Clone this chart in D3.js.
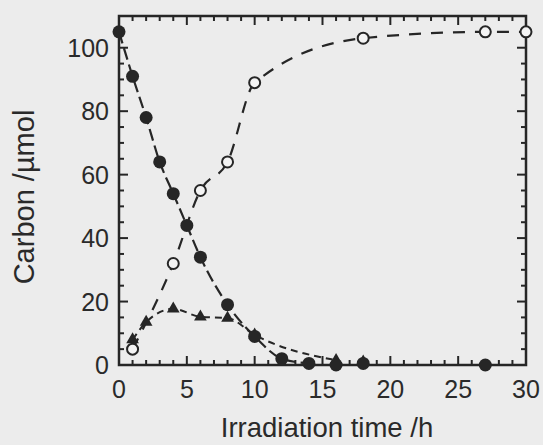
<!DOCTYPE html>
<html>
<head>
<meta charset="utf-8">
<script src="https://cdn.jsdelivr.net/npm/d3@7"></script>
<style>
  html, body { margin: 0; padding: 0; background: #ececec; }
  text { font-family: "Liberation Sans", Arial, sans-serif; fill: #2a2a2a; }
</style>
</head>
<body>
<script>
// irradiation time (h) and carbon amounts (umol)
var reactantTime = [0, 1, 2, 3, 4, 5, 6, 8, 10, 12, 14, 16, 18, 27];
var reactant     = [105, 91, 78, 64, 54, 44, 34, 19, 9, 2, 0.5, 0, 0.5, 0];

var productTime  = [1, 4, 6, 8, 10, 18, 27, 30];
var product      = [5, 32, 55, 64, 89, 103, 105, 105];

var interTime    = [1, 2, 4, 6, 8, 10, 16, 18];
var inter        = [8, 13.5, 17.7, 15.2, 14.8, 9.5, 1.5, 1];

var xTicks = [0, 5, 10, 15, 20, 25, 30];
var yTicks = [0, 20, 40, 60, 80, 100];

var W = 543, H = 445;
var margin = {top: 16, right: 17, bottom: 80, left: 119};
var width = W - margin.left - margin.right,
    height = H - margin.top - margin.bottom;

var svg = d3.select("body").append("svg")
    .attr("width", W)
    .attr("height", H);

var g = svg.append("g")
    .attr("transform", "translate(" + margin.left + "," + margin.top + ")");

var x = d3.scaleLinear().domain([0, 30]).range([0, width]);
var y = d3.scaleLinear().domain([0, 110]).range([height, 0]);

var ink = "#262626";

var xMinor = d3.range(0, 30.001, 1);
var yMinor = d3.range(0, 110.001, 5);

// inward ticks on all four sides, longer at the labelled values
function drawTicks(sel, scale, vals, majorEvery, side) {
  vals.forEach(function(v) {
    var major = Math.abs(v % majorEvery) < 1e-6;
    var len = major ? 9 : 5;
    if (side === "bottom") {
      sel.append("line").attr("x1", scale(v)).attr("x2", scale(v))
        .attr("y1", height).attr("y2", height - len);
    } else if (side === "top") {
      sel.append("line").attr("x1", scale(v)).attr("x2", scale(v))
        .attr("y1", 0).attr("y2", len);
    } else if (side === "left") {
      sel.append("line").attr("y1", scale(v)).attr("y2", scale(v))
        .attr("x1", 0).attr("x2", len);
    } else {
      sel.append("line").attr("y1", scale(v)).attr("y2", scale(v))
        .attr("x1", width).attr("x2", width - len);
    }
  });
}

var tk = g.append("g").attr("stroke", ink).attr("stroke-width", 2);
drawTicks(tk, x, xMinor, 5, "bottom");
drawTicks(tk, x, xMinor, 5, "top");
drawTicks(tk, y, yMinor, 20, "left");
drawTicks(tk, y, yMinor, 20, "right");

g.append("rect")
    .attr("width", width).attr("height", height)
    .attr("fill", "none").attr("stroke", ink).attr("stroke-width", 2.5);

// tick labels
g.selectAll(".xl").data(xTicks).enter().append("text")
    .attr("x", function(d) { return x(d); })
    .attr("y", height + 33)
    .attr("text-anchor", "middle")
    .attr("font-size", 25)
    .text(function(d) { return d; });

g.selectAll(".yl").data(yTicks).enter().append("text")
    .attr("x", -10)
    .attr("y", function(d) { return y(d) + 9; })
    .attr("text-anchor", "end")
    .attr("font-size", 25)
    .text(function(d) { return d; });

svg.append("text")
    .attr("x", 327)
    .attr("y", 437)
    .attr("text-anchor", "middle")
    .attr("font-size", 27.5)
    .text("Irradiation time /h");

svg.append("text")
    .attr("transform", "translate(34,197) rotate(-90)")
    .attr("text-anchor", "middle")
    .attr("font-size", 29)
    .text("Carbon /\u00b5mol");

// curves
function pairs(t, v) { return t.map(function(d, i) { return [d, v[i]]; }); }

var line = d3.line()
    .x(function(d) { return x(d[0]); })
    .y(function(d) { return y(d[1]); })
    .curve(d3.curveMonotoneX);

g.append("path").datum(pairs(reactantTime.slice(0, 11), reactant.slice(0, 11)))
    .attr("d", line).attr("fill", "none")
    .attr("stroke", ink).attr("stroke-width", 2.2)
    .attr("stroke-dasharray", "12,5");

g.append("path").datum(pairs(productTime, product))
    .attr("d", line).attr("fill", "none")
    .attr("stroke", ink).attr("stroke-width", 2.2)
    .attr("stroke-dasharray", "12,10");

g.append("path").datum(pairs(interTime.slice(0, 7), inter.slice(0, 7)))
    .attr("d", line).attr("fill", "none")
    .attr("stroke", ink).attr("stroke-width", 2)
    .attr("stroke-dasharray", "7,5");

// markers
var tri = d3.symbol().type(d3.symbolTriangle).size(70);
g.selectAll(".tri").data(pairs(interTime, inter)).enter().append("path")
    .attr("d", tri)
    .attr("transform", function(d) { return "translate(" + x(d[0]) + "," + y(d[1]) + ")"; })
    .attr("fill", ink);

g.selectAll(".open").data(pairs(productTime, product)).enter().append("circle")
    .attr("cx", function(d) { return x(d[0]); })
    .attr("cy", function(d) { return y(d[1]); })
    .attr("r", 5.5)
    .attr("fill", "#f4f4f4")
    .attr("stroke", ink).attr("stroke-width", 2);

g.selectAll(".filled").data(pairs(reactantTime, reactant)).enter().append("circle")
    .attr("cx", function(d) { return x(d[0]); })
    .attr("cy", function(d) { return y(d[1]); })
    .attr("r", 6.5)
    .attr("fill", ink);
</script>
</body>
</html>
